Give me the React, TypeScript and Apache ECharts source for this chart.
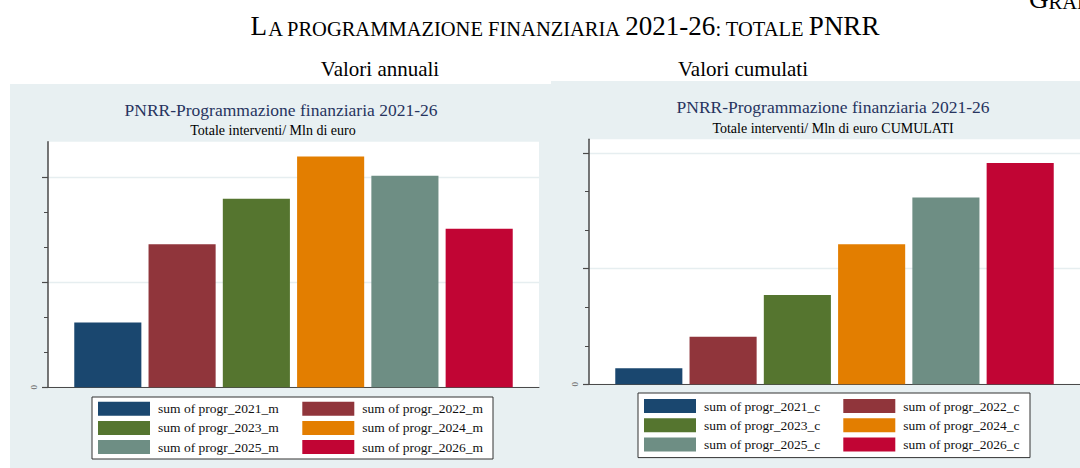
import React, { useEffect, useRef } from "react";
import * as echarts from "echarts";

const YEARS = ["2021", "2022", "2023", "2024", "2025", "2026"];
const annualValues = [12350, 27270, 35950, 43990, 40320, 30200];
const cumulativeValues = [13850, 41210, 77320, 121210, 161560, 191600];
const annualNames = YEARS.map((y) => `sum of progr_${y}_m`);
const cumulNames = YEARS.map((y) => `sum of progr_${y}_c`);
const COLORS = ["#1a476f", "#90353b", "#55752f", "#e37e00", "#6e8e84", "#c10534"];

const annualMax = 46800;
const annualMajor = [0, 20000, 40000];
const annualMinor = [6667, 13333, 26667, 33333];
const cumulMax = 212000;
const cumulMajor = [0, 100000, 200000];
const cumulMinor = [33333, 66667, 133333, 166667];

const SERIF = "Liberation Serif";
const AXIS = "#4a4a4a";

function majorAxis(gridIndex: number, max: number, interval: number, ticks: number[]) {
  return {
    type: "value",
    gridIndex,
    position: "left",
    min: 0,
    max,
    interval,
    axisLine: { show: true, lineStyle: { color: AXIS, width: 1.5 } },
    axisTick: { show: true, length: 6, customValues: ticks, lineStyle: { color: AXIS, width: 1.2 } },
    axisLabel: {
      show: true,
      customValues: [0],
      formatter: (v: number) => (v === 0 ? "0" : ""),
      rotate: 90,
      fontSize: 9,
      color: "#666",
      margin: 10,
      fontFamily: SERIF,
    },
    splitLine: { show: true, lineStyle: { color: "#e6eef0", width: 1.3 } },
  };
}

function minorAxis(gridIndex: number, max: number, ticks: number[]) {
  return {
    type: "value",
    gridIndex,
    position: "left",
    offset: 0,
    min: 0,
    max,
    axisLine: { show: false },
    axisTick: { show: true, length: 4, customValues: ticks, lineStyle: { color: AXIS, width: 1 } },
    axisLabel: { show: false },
    splitLine: { show: false },
  };
}

function catAxis(gridIndex: number) {
  return {
    type: "category",
    gridIndex,
    data: [""],
    axisLine: { show: true, lineStyle: { color: AXIS, width: 1 } },
    axisTick: { show: false },
    axisLabel: { show: false },
    splitLine: { show: false },
  };
}

function legendCol(names: string[], left: number, top: number) {
  return {
    orient: "vertical",
    left,
    top,
    data: names,
    icon: "rect",
    itemWidth: 52,
    itemHeight: 14,
    itemGap: 5.2,
    padding: 0,
    selectedMode: false,
    textStyle: { fontFamily: SERIF, fontSize: 13.5, color: "#111", lineHeight: 14, padding: [0, 0, 0, 3] },
  };
}

const titleRich = {
  b: { fontFamily: SERIF, fontSize: 27, fill: "#000", verticalAlign: "bottom" },
  s: { fontFamily: SERIF, fontSize: 20.5, fill: "#000", verticalAlign: "bottom" },
};

function buildOption() {
  const series: any[] = [];
  YEARS.forEach((_, i) => {
    series.push({
      type: "bar",
      name: annualNames[i],
      xAxisIndex: 0,
      yAxisIndex: 0,
      data: [annualValues[i]],
      barGap: "10.7%",
      barCategoryGap: "10.7%",
      itemStyle: { color: COLORS[i] },
    });
  });
  YEARS.forEach((_, i) => {
    series.push({
      type: "bar",
      name: cumulNames[i],
      xAxisIndex: 1,
      yAxisIndex: 2,
      data: [cumulativeValues[i]],
      barGap: "10.7%",
      barCategoryGap: "10.7%",
      itemStyle: { color: COLORS[i] },
    });
  });

  return {
    animation: false,
    backgroundColor: "#e8f0f2",
    grid: [
      { left: 48, top: 141.7, width: 491, height: 245.6, show: true, backgroundColor: "#ffffff", borderWidth: 0 },
      { left: 589, top: 139.3, width: 491, height: 245, show: true, backgroundColor: "#ffffff", borderWidth: 0 },
    ],
    xAxis: [catAxis(0), catAxis(1)],
    yAxis: [
      majorAxis(0, annualMax, 20000, annualMajor),
      minorAxis(0, annualMax, annualMinor),
      majorAxis(1, cumulMax, 100000, cumulMajor),
      minorAxis(1, cumulMax, cumulMinor),
    ],
    legend: [
      legendCol([annualNames[0], annualNames[2], annualNames[4]], 98, 401.7),
      legendCol([annualNames[1], annualNames[3], annualNames[5]], 302.3, 401.7),
      legendCol([cumulNames[0], cumulNames[2], cumulNames[4]], 644, 399),
      legendCol([cumulNames[1], cumulNames[3], cumulNames[5]], 843.3, 399),
    ],
    graphic: [
      { type: "rect", z: 0, shape: { x: 0, y: 0, width: 1080, height: 81 }, style: { fill: "#ffffff" } },
      { type: "rect", z: 0, shape: { x: 0, y: 80, width: 551, height: 4 }, style: { fill: "#ffffff" } },
      { type: "rect", z: 0, shape: { x: 0, y: 80, width: 10, height: 388 }, style: { fill: "#ffffff" } },
      { type: "rect", z: 0, shape: { x: 92, y: 397, width: 401, height: 62 }, style: { fill: "#ffffff", stroke: "#333", lineWidth: 1 } },
      { type: "rect", z: 0, shape: { x: 638, y: 393, width: 392, height: 64.6 }, style: { fill: "#ffffff", stroke: "#333", lineWidth: 1 } },
      {
        type: "text",
        z: 5,
        x: 565,
        y: 39,
        style: {
          text: "{b|L}{s|A PROGRAMMAZIONE FINANZIARIA }{b|2021-26}{s|: TOTALE }{b|PNRR}",
          rich: titleRich,
          align: "center",
          verticalAlign: "bottom",
        },
      },
      {
        type: "text",
        z: 5,
        x: 1029,
        y: 12,
        style: { text: "{b|G}{s|RAFICO 1}", rich: titleRich, align: "left", verticalAlign: "bottom" },
      },
      {
        type: "text",
        z: 5,
        x: 380,
        y: 69,
        style: { text: "Valori annuali", fontFamily: SERIF, fontSize: 21, fill: "#000", align: "center", verticalAlign: "middle" },
      },
      {
        type: "text",
        z: 5,
        x: 743,
        y: 69,
        style: { text: "Valori cumulati", fontFamily: SERIF, fontSize: 21, fill: "#000", align: "center", verticalAlign: "middle" },
      },
      {
        type: "text",
        z: 5,
        x: 281,
        y: 109.5,
        style: { text: "PNRR-Programmazione finanziaria 2021-26", fontFamily: SERIF, fontSize: 17.5, fill: "#27345f", align: "center", verticalAlign: "middle" },
      },
      {
        type: "text",
        z: 5,
        x: 273,
        y: 130.5,
        style: { text: "Totale interventi/ Mln di euro", fontFamily: SERIF, fontSize: 14, fill: "#000", align: "center", verticalAlign: "middle" },
      },
      {
        type: "text",
        z: 5,
        x: 833,
        y: 107,
        style: { text: "PNRR-Programmazione finanziaria 2021-26", fontFamily: SERIF, fontSize: 17.5, fill: "#27345f", align: "center", verticalAlign: "middle" },
      },
      {
        type: "text",
        z: 5,
        x: 833,
        y: 128.5,
        style: { text: "Totale interventi/ Mln di euro CUMULATI", fontFamily: SERIF, fontSize: 14, fill: "#000", align: "center", verticalAlign: "middle" },
      },
    ],
    series,
  };
}

export default function App() {
  const ref = useRef<HTMLDivElement>(null);
  useEffect(() => {
    document.body.style.margin = "0";
    if (!ref.current) return;
    const chart = echarts.init(ref.current, null, { renderer: "svg" });
    chart.setOption(buildOption() as any);
    return () => chart.dispose();
  }, []);
  return <div ref={ref} style={{ width: 1080, height: 468, position: "absolute", left: 0, top: 0 }} />;
}
